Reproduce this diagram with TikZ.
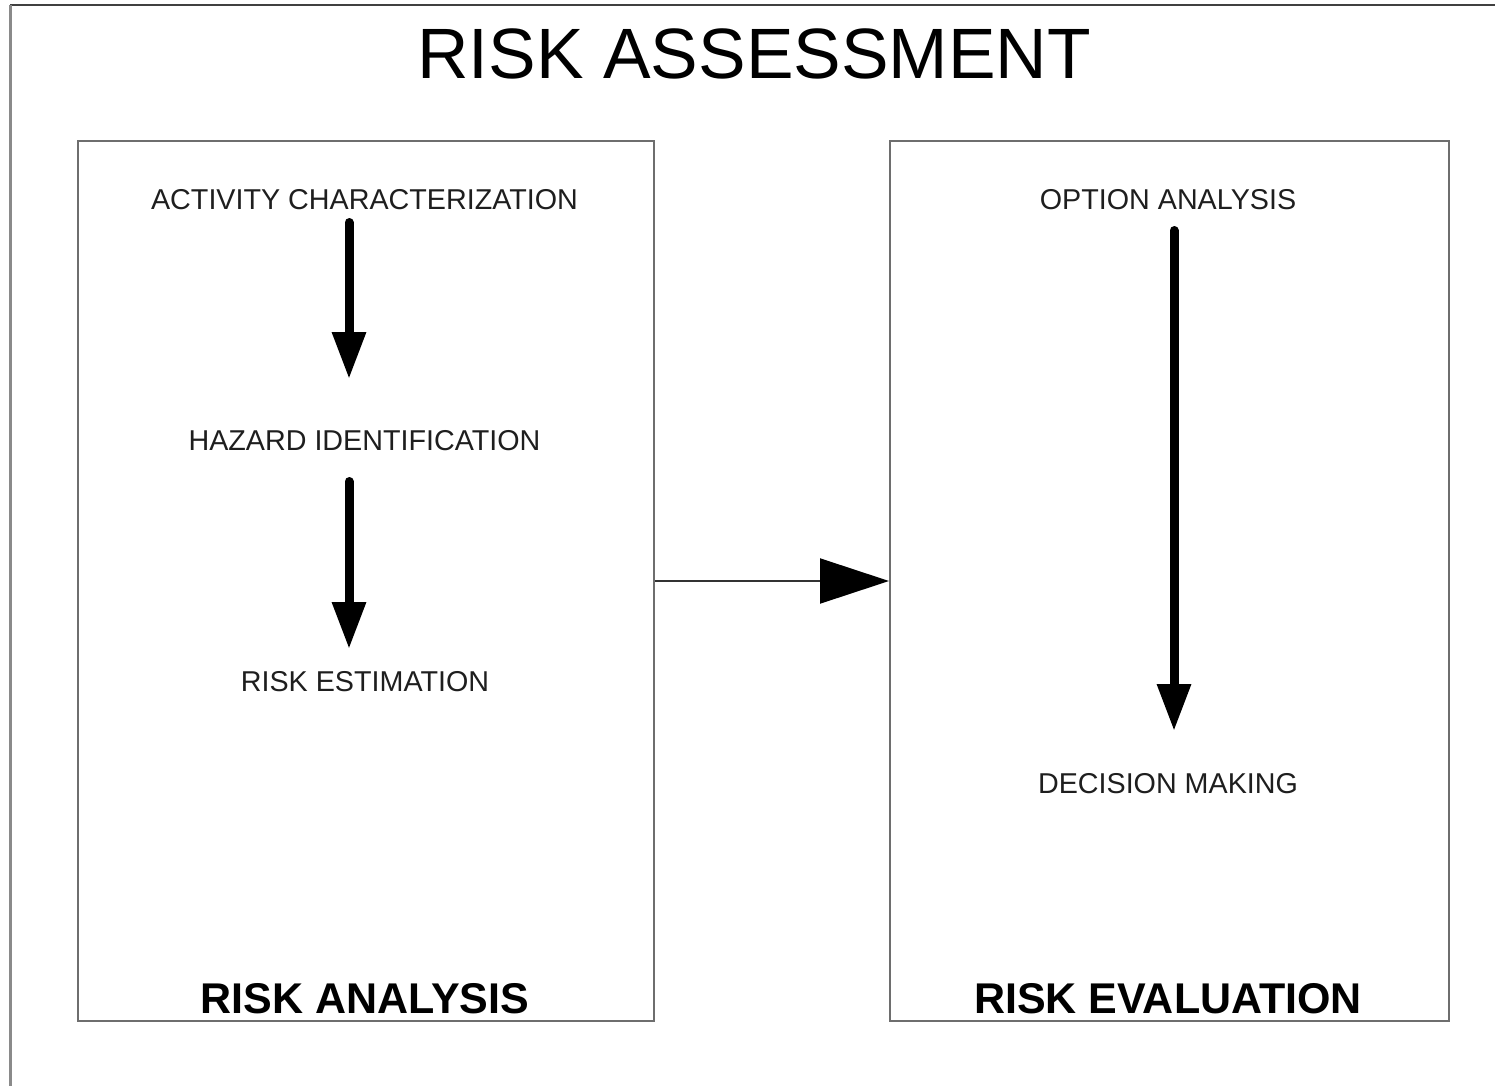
\documentclass[tikz,border=0pt]{standalone}
\usepackage{fontspec}
\setmainfont{Liberation Sans}
\usetikzlibrary{arrows.meta}
\definecolor{boxgray}{HTML}{6E6E6E}
\definecolor{framegray}{HTML}{8A8A8A}
\definecolor{textgray}{HTML}{1E1E1E}
\tikzset{
  step label/.style={inner sep=0pt, anchor=south, text=textgray,
    font=\fontsize{28.7}{30}\selectfont, text height=20.5pt, text depth=0pt},
  panel title/.style={inner sep=0pt, anchor=south,
    font=\fontsize{43}{45}\selectfont\bfseries, text height=30.8pt, text depth=0pt},
  panel/.style={draw=boxgray, line width=2pt, inner sep=0pt},
  flow arrow/.style={line width=9pt, line cap=round,
    -{Triangle[length=47pt, width=32pt]}},
  link arrow/.style={draw=black!80, line width=2pt,
    -{Triangle[length=69pt, width=45pt, color=black]}}
}
\begin{document}
\begin{tikzpicture}[x=1pt, y=-1pt]
  \useasboundingbox (0,0) rectangle (1495,1086);
  % outer frame (only top and left edges show)
  \draw[draw=black!75, line width=2pt] (10,5) -- (1495,5);
  \draw[draw=framegray, line width=3pt] (10,5) -- (10,1086);

  \node[inner sep=0pt, anchor=south, font=\fontsize{71.3}{74}\selectfont,
        text height=51pt, text depth=0pt] (title) at (754,79) {RISK ASSESSMENT};

  % panels
  \node[panel, minimum width=576pt, minimum height=880pt] (lbox) at (366,581) {};
  \node[panel, minimum width=559pt, minimum height=880pt] (rbox) at (1169.5,581) {};

  % risk analysis steps
  \node[step label] (act) at (364.5,210) {ACTIVITY CHARACTERIZATION};
  \node[step label] (haz) at (364.5,451) {HAZARD IDENTIFICATION};
  \node[step label] (est) at (365,692) {RISK ESTIMATION};
  \node[panel title] (ana) at (365,1014) {RISK ANALYSIS};

  % risk evaluation steps
  \node[step label] (opt) at (1168,210) {OPTION ANALYSIS};
  \node[step label] (dec) at (1168,794) {DECISION MAKING};
  \node[panel title] (eva) at (1168,1014) {RISK EVALUATION};

  \coordinate (axL) at (349,0);
  \coordinate (axR) at (1174,0);

  \draw[flow arrow, shorten <=12.5pt, shorten >=51pt] (act.south -| axL) -- (haz.north -| axL);
  \draw[flow arrow, shorten <=30.5pt, shorten >=22pt] (haz.south -| axL) -- (est.north -| axL);
  \draw[flow arrow, shorten <=20.5pt, shorten >=42pt] (opt.south -| axR) -- (dec.north -| axR);

  \draw[link arrow] (lbox.east) -- (rbox.west);
\end{tikzpicture}
\end{document}
